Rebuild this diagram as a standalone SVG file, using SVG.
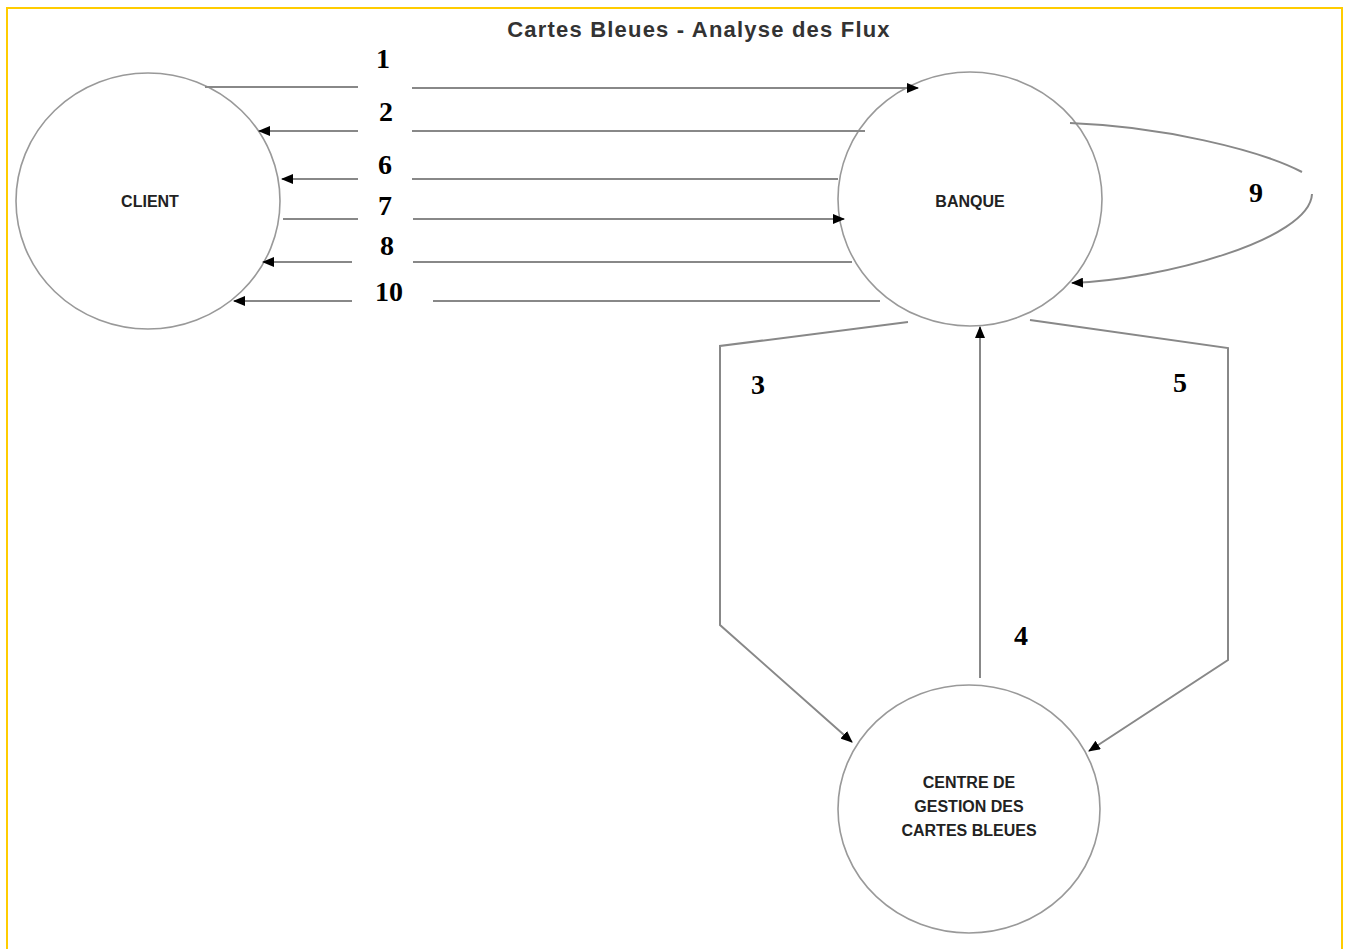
<svg xmlns="http://www.w3.org/2000/svg" width="1349" height="949" viewBox="0 0 1349 949">
<style>
.node{fill:#fff;stroke:#999;stroke-width:1.6}
.ntxt{font-family:"Liberation Sans",Arial,sans-serif;font-size:16px;font-weight:bold;fill:#222;text-anchor:middle}
.lbl{font-family:"Liberation Serif","Times New Roman",serif;font-size:28px;font-weight:bold;fill:#000;text-anchor:middle}
.c{fill:none;stroke:#888;stroke-width:2}
</style>
<defs>
<marker id="ah" viewBox="0 0 12 10" refX="11" refY="5" markerWidth="12" markerHeight="10" markerUnits="userSpaceOnUse" orient="auto">
<path d="M0,0 L12,5 L0,10 z" fill="#000"/>
</marker>
</defs>
<rect width="1349" height="949" fill="#fff"/>
<rect x="7" y="8" width="1335" height="945" fill="none" stroke="#ffcc00" stroke-width="2"/>
<text x="699" y="37" font-family="'Liberation Sans',Arial,sans-serif" font-size="22" font-weight="bold" letter-spacing="1.2" fill="#333" text-anchor="middle">Cartes Bleues - Analyse des Flux</text>

<g id="client">
<ellipse class="node" cx="148" cy="201" rx="132" ry="128"/>
<text class="ntxt" x="150" y="207">CLIENT</text>
</g>
<g id="banque">
<ellipse class="node" cx="970" cy="199" rx="132" ry="127"/>
<text class="ntxt" x="970" y="207">BANQUE</text>
</g>
<g id="centre">
<ellipse class="node" cx="969" cy="809" rx="131" ry="124"/>
<text class="ntxt" x="969" y="788">CENTRE DE</text>
<text class="ntxt" x="969" y="812">GESTION DES</text>
<text class="ntxt" x="969" y="836">CARTES BLEUES</text>
</g>

<g id="connectors">
<!-- 1 -->
<line class="c" x1="205" y1="87" x2="358" y2="87"/>
<line class="c" x1="412" y1="88" x2="918" y2="88" marker-end="url(#ah)"/>
<!-- 2 -->
<line class="c" x1="865" y1="131" x2="412" y2="131"/>
<line class="c" x1="358" y1="131" x2="259" y2="131" marker-end="url(#ah)"/>
<!-- 6 -->
<line class="c" x1="838" y1="179" x2="412" y2="179"/>
<line class="c" x1="358" y1="179" x2="282" y2="179" marker-end="url(#ah)"/>
<!-- 7 -->
<line class="c" x1="283" y1="219" x2="358" y2="219"/>
<line class="c" x1="413" y1="219" x2="844" y2="219" marker-end="url(#ah)"/>
<!-- 8 -->
<line class="c" x1="852" y1="262" x2="413" y2="262"/>
<line class="c" x1="352" y1="262" x2="263" y2="262" marker-end="url(#ah)"/>
<!-- 10 -->
<line class="c" x1="880" y1="301" x2="433" y2="301"/>
<line class="c" x1="352" y1="301" x2="234" y2="301" marker-end="url(#ah)"/>
<!-- 9 loop -->
<path class="c" d="M1070,123 C1160,126 1260,150 1302,172"/>
<path class="c" d="M1312,194 C1310,240 1160,280 1072,283" marker-end="url(#ah)"/>
<!-- 3 -->
<path class="c" d="M908,322 L720,346 L720,625 L852,742" marker-end="url(#ah)"/>
<!-- 4 -->
<line class="c" x1="980" y1="678" x2="980" y2="327" marker-end="url(#ah)"/>
<!-- 5 -->
<path class="c" d="M1030,320 L1228,348 L1228,660 L1089,751" marker-end="url(#ah)"/>
</g>

<g id="labels">
<text class="lbl" x="383" y="68">1</text>
<text class="lbl" x="386" y="121">2</text>
<text class="lbl" x="385" y="174">6</text>
<text class="lbl" x="385" y="215">7</text>
<text class="lbl" x="387" y="255">8</text>
<text class="lbl" x="389" y="301">10</text>
<text class="lbl" x="758" y="394">3</text>
<text class="lbl" x="1180" y="392">5</text>
<text class="lbl" x="1021" y="645">4</text>
<text class="lbl" x="1256" y="202">9</text>
</g>
</svg>
